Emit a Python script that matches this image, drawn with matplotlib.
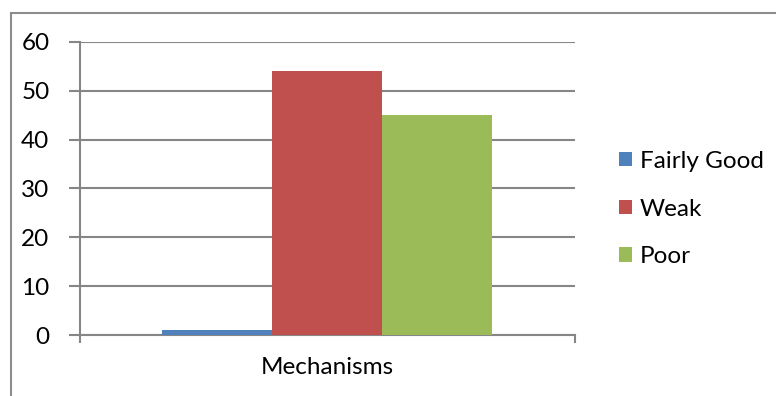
import matplotlib.pyplot as plt
from matplotlib.patches import Rectangle

# data
category = "Mechanisms"
series_names = ["Fairly Good", "Weak", "Poor"]
series_values = [1, 54, 45]
series_colors = ["#4F81BD", "#C0504D", "#9BBB59"]
y_ticks = [0, 10, 20, 30, 40, 50, 60]

W, H = 776, 396
fig = plt.figure(figsize=(W / 100, H / 100), dpi=100)
plt.rcParams['font.family'] = ['Lato', 'DejaVu Sans']
fs = 17.5

# outer chart frame (only left and top edges visible in the crop)
fig.patches.append(Rectangle((11 / W, -0.1), 1.2, 1 - 13 / H + 0.1,
                             transform=fig.transFigure, fill=False,
                             edgecolor="#8c8c8c", linewidth=1.5))

ax = fig.add_axes([80 / W, 1 - 335 / H, (575 - 80) / W, (335 - 42) / H])
grid_col = "#868686"

# bars: Excel-style with 150% gap width
n = len(series_values)
bar_w = 1.0 / (n + 1.5)
start = 0.75 * bar_w
for i, (name, v, c) in enumerate(zip(series_names, series_values, series_colors)):
    ax.bar(start + i * bar_w, v, width=bar_w, align="edge", color=c,
           label=name, zorder=3)

ax.set_xlim(0, 1)
ax.set_ylim(0, 60)
ax.set_yticks(y_ticks)
ax.set_yticklabels([str(t) for t in y_ticks], fontsize=fs)
ax.yaxis.grid(True, color=grid_col, linewidth=1.5, zorder=0)
ax.set_axisbelow(True)

ax.set_xticks([0, 1])
ax.set_xticklabels([])
ax.tick_params(axis="x", length=6, width=1.5, color=grid_col)
ax.tick_params(axis="y", length=8, width=1.5, color=grid_col, pad=14)
ax.text(0.5, -0.075, category, transform=ax.transAxes, ha="center", va="top",
        fontsize=fs)

for s in ["top", "right"]:
    ax.spines[s].set_visible(False)
for s in ["left", "bottom"]:
    ax.spines[s].set_color(grid_col)
    ax.spines[s].set_linewidth(1.5)

ax.legend(loc="center left", bbox_to_anchor=(597 / W, 1 - 209 / H),
          bbox_transform=fig.transFigure, frameon=False, fontsize=fs,
          handlelength=0.55, handleheight=0.55, handletextpad=0.3,
          labelspacing=1.1)

fig.savefig("out.png", dpi=100)
